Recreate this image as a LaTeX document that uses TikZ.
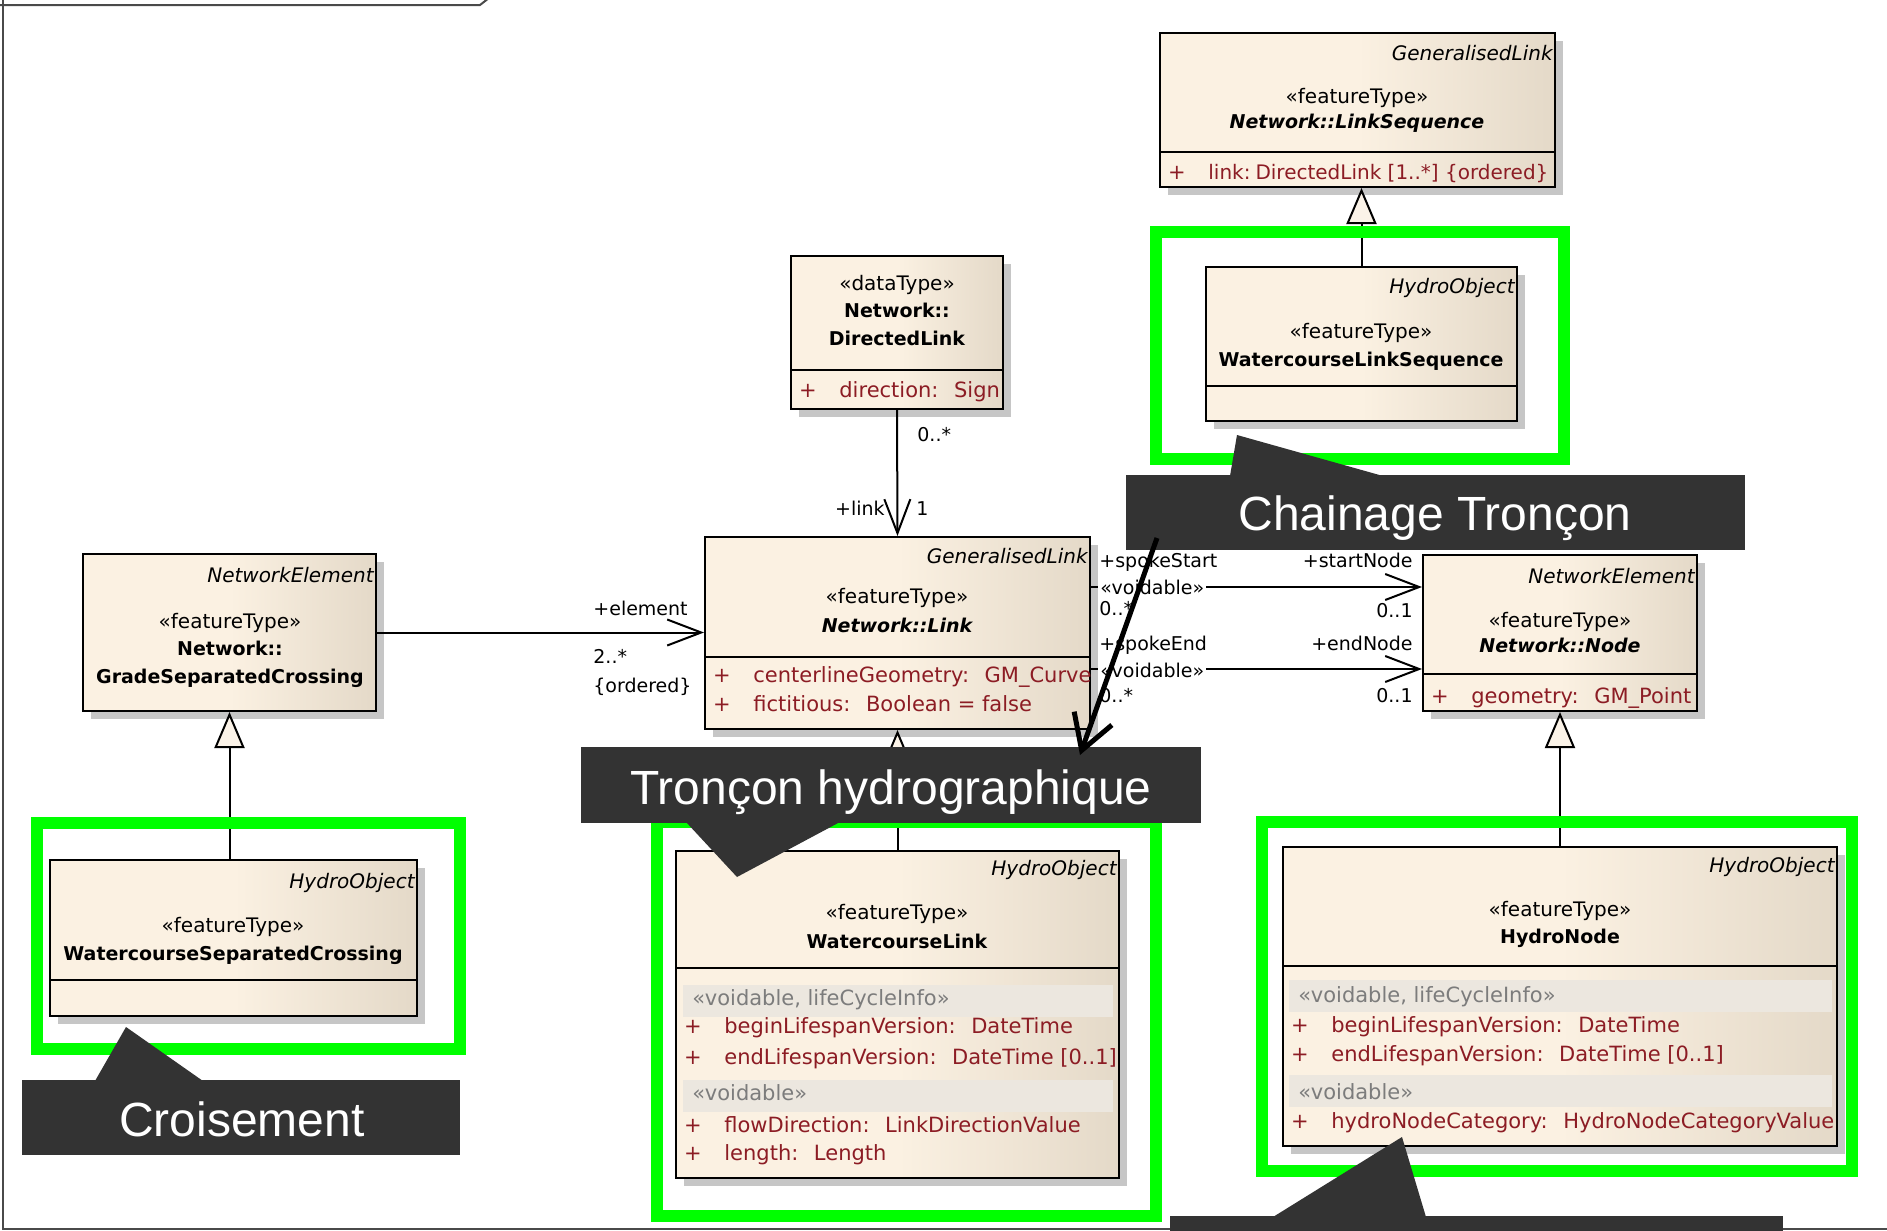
\documentclass[tikz,border=0pt]{standalone}
\usepackage{fontspec}
\setmainfont{DejaVu Sans}
\newfontfamily\calloutfont{Liberation Sans}
\usetikzlibrary{arrows.meta,fit}

\definecolor{boxL}{HTML}{FBF1E2}
\definecolor{boxR}{HTML}{E4D9C8}
\definecolor{bandc}{HTML}{ECE7DF}
\definecolor{attrc}{HTML}{8C1C24}
\definecolor{sectc}{HTML}{7C7C7C}
\definecolor{callc}{HTML}{333333}
\definecolor{hilite}{HTML}{00FF00}
\definecolor{shadowc}{HTML}{C6C6C6}
\definecolor{trifill}{HTML}{FBF3E8}
\definecolor{framec}{HTML}{4A4A4A}

% class box: name, left, top, right, bottom (with its offset shadow)
\newcommand\umlclass[5]{%
  \fill[shadowc] ({#2+8},{#3+8}) rectangle ({#4+8},{#5+8});
  \node[classbox, fit={(#2,#3) (#4,#5)}] (#1) {};}
% compartment divider: left, right, y
\newcommand\umlrule[3]{\draw[line width=1pt] (#1,#3) -- (#2,#3);}
% section band: left, right, top, bottom
\newcommand\umlband[4]{\fill[bandc] (#1,#3) rectangle (#2,#4);}
% attribute line: name, box left, y, text
\newcommand\umlattr[4]{%
  \node[attr, anchor=mid] (#1p) at ({#2+17},#3) {+};
  \node[attr, anchor=mid west] (#1) at ({#2+48},#3) {#4};}

\begin{document}
\begin{tikzpicture}[x=0.5pt,y=-0.5pt,
  classbox/.style={draw=black, line width=1pt, inner sep=0pt,
    left color=boxL, right color=boxR, middle color=boxL},
  txt/.style={inner sep=0pt, font=\fontsize{10}{12}\selectfont},
  tag/.style={txt, font=\fontsize{10}{12}\selectfont\itshape, anchor=mid east},
  stereo/.style={txt, anchor=mid},
  cname/.style={txt, font=\fontsize{9.5}{11}\selectfont\bfseries, anchor=mid},
  aname/.style={txt, font=\fontsize{9.5}{11}\selectfont\bfseries\itshape, anchor=mid},
  attr/.style={inner sep=0pt, text=attrc, font=\fontsize{10.5}{12}\selectfont},
  sect/.style={inner sep=0pt, text=sectc, font=\fontsize{10.5}{12}\selectfont, anchor=mid west},
  assoc/.style={inner sep=0pt, font=\fontsize{9.5}{11}\selectfont},
  gen/.style={line width=1pt, -{Triangle[length=18pt,width=15pt,fill=trifill]}},
  nav/.style={line width=1pt, -{Straight Barb[length=17pt,width=13pt]}},
  hl/.style={draw=hilite, line width=6pt, inner sep=0pt},
  calltext/.style={inner sep=0pt, text=white, anchor=base,
    font=\calloutfont\fontsize{24}{28}\selectfont},
  pointer/.style={line width=2.5pt, -{Straight Barb[length=17pt,width=20pt]}}]

\useasboundingbox (0,0) rectangle (1887,1231);
\fill[white] (0,0) rectangle (1887,1231);

% diagram frame
\draw[framec, line width=1pt] (3,0) -- (3,1229) -- (1887,1229);
\draw[framec, line width=1pt] (0,5) -- (480,5) -- (489,-2);

% ---------------- classes ----------------
% Network::LinkSequence
\umlclass{seq}{1160}{33}{1555}{187}
\umlrule{1160}{1555}{152}
\node[tag] (seqtag) at (1553,55) {GeneralisedLink};
\node[stereo] (seqst) at (1357,98) {«featureType»};
\node[aname] (seqname) at (1357,123) {Network::LinkSequence};
\node[attr, anchor=mid] (seqap) at (1177,174) {+};
\node[attr, anchor=mid west, font=\fontsize{10}{12}\selectfont] (seqa) at (1208,174) {link:\hspace{0.25em}DirectedLink [1..*] \{ordered\}};

% WatercourseLinkSequence
\umlclass{wls}{1206}{267}{1517}{421}
\umlrule{1206}{1517}{386}
\node[tag] (wlstag) at (1515,288) {HydroObject};
\node[stereo] (wlsst) at (1361,333) {«featureType»};
\node[cname] (wlsname) at (1361,361) {WatercourseLinkSequence};

% Network::DirectedLink
\umlclass{dl}{791}{256}{1003}{409}
\umlrule{791}{1003}{370}
\node[stereo] (dlst) at (897,285) {«dataType»};
\node[cname] (dlns) at (897,312) {Network::};
\node[cname] (dlname) at (897,340) {DirectedLink};
\umlattr{dla}{791}{392}{direction:~ Sign}

% Network::Link
\umlclass{link}{705}{537}{1090}{729}
\umlrule{705}{1090}{657}
\node[tag] (linktag) at (1088,558) {GeneralisedLink};
\node[stereo] (linkst) at (897,598) {«featureType»};
\node[aname] (linkname) at (897,627) {Network::Link};
\umlattr{linka}{705}{677}{centerlineGeometry:~ GM\_Curve}
\umlattr{linkb}{705}{706}{fictitious:~ Boolean = false}

% Network::GradeSeparatedCrossing
\umlclass{gsc}{83}{554}{376}{711}
\node[tag] (gsctag) at (374,577) {NetworkElement};
\node[stereo] (gscst) at (230,623) {«featureType»};
\node[cname] (gscns) at (230,650) {Network::};
\node[cname] (gscname) at (230,678) {GradeSeparatedCrossing};

% WatercourseSeparatedCrossing
\umlclass{wsc}{50}{860}{417}{1016}
\umlrule{50}{417}{980}
\node[tag] (wsctag) at (415,883) {HydroObject};
\node[stereo] (wscst) at (233,927) {«featureType»};
\node[cname] (wscname) at (233,955) {WatercourseSeparatedCrossing};

% Network::Node
\umlclass{node}{1423}{555}{1697}{711}
\umlrule{1423}{1697}{674}
\node[tag] (nodetag) at (1695,578) {NetworkElement};
\node[stereo] (nodest) at (1560,622) {«featureType»};
\node[aname] (nodename) at (1560,647) {Network::Node};
\umlattr{nodea}{1423}{698}{geometry:~ GM\_Point}

% WatercourseLink
\umlclass{wl}{676}{851}{1119}{1178}
\umlrule{676}{1119}{968}
\node[tag] (wltag) at (1117,870) {HydroObject};
\node[stereo] (wlst) at (897,914) {«featureType»};
\node[cname] (wlname) at (897,943) {WatercourseLink};
\umlband{683}{1113}{985}{1017}
\node[sect] (wls1) at (692,1000) {«voidable, lifeCycleInfo»};
\umlattr{wla}{676}{1028}{beginLifespanVersion:~ DateTime}
\umlattr{wlb}{676}{1059}{endLifespanVersion:~ DateTime [0..1]}
\umlband{683}{1113}{1080}{1112}
\node[sect] (wls2) at (692,1095) {«voidable»};
\umlattr{wlc}{676}{1127}{flowDirection:~ LinkDirectionValue}
\umlattr{wld}{676}{1155}{length:~ Length}

% HydroNode
\umlclass{hn}{1283}{847}{1837}{1146}
\umlrule{1283}{1837}{966}
\node[tag] (hntag) at (1835,867) {HydroObject};
\node[stereo] (hnst) at (1560,911) {«featureType»};
\node[cname] (hnname) at (1560,938) {HydroNode};
\umlband{1289}{1832}{980}{1012}
\node[sect] (hns1) at (1298,997) {«voidable, lifeCycleInfo»};
\umlattr{hna}{1283}{1027}{beginLifespanVersion:~ DateTime}
\umlattr{hnb}{1283}{1056}{endLifespanVersion:~ DateTime [0..1]}
\umlband{1289}{1832}{1075}{1107}
\node[sect] (hns2) at (1298,1094) {«voidable»};
\umlattr{hnc}{1283}{1123}{hydroNodeCategory:~ HydroNodeCategoryValue}

% ---------------- relations ----------------
\draw[gen] (wls.north) -- (wls.north |- seq.south);
\draw[gen] (gsc.south |- wsc.north) -- (gsc.south);
\draw[gen] (wl.north) -- (link.south);
\draw[gen] (hn.north) -- (node.south);
\draw[nav] (dl.south) -- (link.north);
\draw[nav] (gsc.east) -- (gsc.east -| link.west);
\draw[nav] ([yshift=23pt]link.east) -- ([yshift=23pt]node.west);
\draw[nav] ([yshift=-18pt]link.east) -- ([yshift=-18pt]node.west);

% role names and multiplicities
\node[assoc, anchor=mid west] (ldlm) at (917,436) {0..*};
\node[assoc, anchor=mid east] (llink) at (885,510) {+link};
\node[assoc, anchor=mid west] (llink1) at (916,510) {1};
\node[assoc, anchor=mid west] (lelem) at (593,610) {+element};
\node[assoc, anchor=mid west] (lelemm) at (593,658) {2..*};
\node[assoc, anchor=mid west] (lelemo) at (593,687) {\{ordered\}};
\node[assoc, anchor=mid west] (lspokes) at (1099,562) {+spokeStart};
\node[assoc, anchor=mid west, fill=white, inner sep=1pt] (lvoids) at (1098,589) {«voidable»};
\node[assoc, anchor=mid west] (lmults) at (1099,610) {0..*};
\node[assoc, anchor=mid west] (lspokee) at (1099,645) {+spokeEnd};
\node[assoc, anchor=mid west, fill=white, inner sep=1pt] (lvoide) at (1098,672) {«voidable»};
\node[assoc, anchor=mid west] (lmulte) at (1099,697) {0..*};
\node[assoc, anchor=mid east] (lstartn) at (1413,562) {+startNode};
\node[assoc, anchor=mid east] (lmultsn) at (1413,612) {0..1};
\node[assoc, anchor=mid east] (lendn) at (1413,645) {+endNode};
\node[assoc, anchor=mid east] (lmulten) at (1413,697) {0..1};

% ---------------- highlights ----------------
\node[hl, fit={(1156,232) (1564,459)}] (hlseq) {};
\node[hl, fit={(37,823) (460,1049)}] (hlwsc) {};
\node[hl, fit={(657,822) (1156,1216)}] (hlwl) {};
\node[hl, fit={(1262,822) (1852,1171)}] (hlhn) {};

% ---------------- callouts ----------------
\fill[callc] (1126,475) rectangle (1745,550);
\fill[callc] (1237,435) -- (1230,476) -- (1383,476) -- cycle;
\node[calltext] (chaintxt) at (1435,530) {Chainage Tronçon};

\fill[callc] (581,747) rectangle (1201,823);
\fill[callc] (737,877) -- (686,822) -- (840,822) -- cycle;
\node[calltext] (troncontxt) at (891,804) {Tronçon hydrographique};

\fill[callc] (22,1080) rectangle (460,1155);
\fill[callc] (126,1027) -- (95,1081) -- (203,1081) -- cycle;
\node[calltext] (croisetxt) at (242,1136) {Croisement};

\fill[callc] (1170,1216) rectangle (1783,1245);
\fill[callc] (1402,1137) -- (1273,1217) -- (1426,1217) -- cycle;

% pointer from the chainage note
\coordinate (ptrstart) at (1157,538);
\coordinate (ptrend) at (1080,755);
\draw[pointer] (ptrstart) -- (ptrend);

\end{tikzpicture}
\end{document}
